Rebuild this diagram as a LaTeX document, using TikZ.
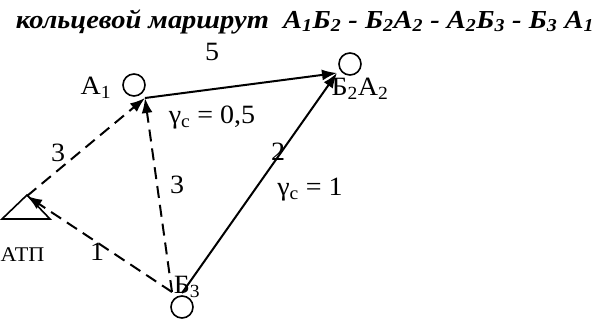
\documentclass[tikz,border=0pt]{standalone}
\usepackage{fontspec}
\setmainfont{Liberation Serif}
\usetikzlibrary{arrows.meta,positioning}

\begin{document}
\begin{tikzpicture}[
  x=1bp, y=-1bp,
  stop/.style={circle, draw, line width=1.6bp, minimum size=22bp, inner sep=0pt},
  lbl/.style={font=\fontsize{26.5}{28}\selectfont, inner sep=0pt, xscale=1.06},
  arr/.style={-{Latex[length=15bp,width=11bp]}, line width=2bp},
  empty/.style={arr, dash pattern=on 12bp off 7bp},
]
\useasboundingbox (0,0) rectangle (606,320);

% Title
\node[font=\fontsize{26}{28}\selectfont\bfseries\itshape, anchor=base, inner sep=0pt, xscale=1.1] (title) at (305,28)
  {кольцевой маршрут\ \ А\textsubscript{1}Б\textsubscript{2} - Б\textsubscript{2}А\textsubscript{2} - А\textsubscript{2}Б\textsubscript{3} - Б\textsubscript{3} А\textsubscript{1}};

% Points
\node[stop] (a1) at (134,85) {};
\node[stop] (b2a2) at (350,64) {};
\node[stop] (b3) at (182,307) {};
\draw[line width=1.6bp] (2,219) -- (27,195) -- (50,219) -- cycle;
\coordinate (atp) at (27,196);

% Names
\node[lbl] (a1name) at (96,88) {А\textsubscript{1}};
\node[lbl] (b2a2name) at (360,89) {Б\textsubscript{2}А\textsubscript{2}};
\node[lbl] (b3name) at (187,287) {Б\textsubscript{3}};
\node[lbl, font=\fontsize{21}{23}\selectfont] (atpname) at (22.5,255) {АТП};

% Ports
\coordinate (a1p) at (145,98);
\coordinate (b2p) at (337,73);
\coordinate (b3p) at (172,292);
\coordinate (b3q) at (182,293);

% Arrows
\draw[arr] (a1p) -- (b2p);
\draw[arr] (b3q) -- (b2p);
\draw[empty] (b3p) -- (atp);
\draw[empty] (atp) -- (a1p);
\draw[empty] (b3p) -- (a1p);

% Distances
\node[lbl] (d5) at (212,52) {5};
\node[lbl] (g05) at (212,118) {γ\textsubscript{c} = 0,5};
\node[lbl] (d3a) at (58,153) {3};
\node[lbl] (d3b) at (177,185) {3};
\node[lbl] (d1) at (97,252) {1};
\node[lbl] (d2) at (278,152) {2};
\node[lbl] (g1) at (310,190) {γ\textsubscript{c} = 1};
\end{tikzpicture}
\end{document}
